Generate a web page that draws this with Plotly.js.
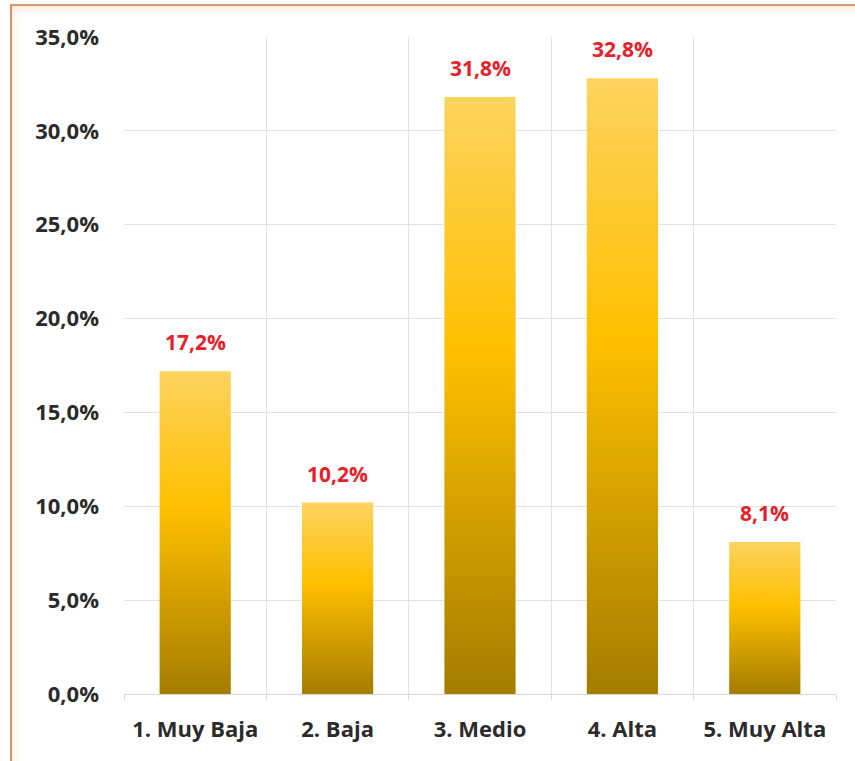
<!DOCTYPE html>
<html>
<head>
<meta charset="utf-8">
<script src="https://cdn.plot.ly/plotly-3.0.1.min.js"></script>
<style>
  html, body { margin: 0; padding: 0; background: #ffffff; }
  #wrap { position: relative; width: 855px; height: 761px; overflow: hidden; }
  #chart { position: absolute; left: 0; top: 0; width: 855px; height: 761px; }
  #frame { position: absolute; left: 10px; top: 4px; width: 860px; height: 770px;
           border-top: 2px solid #D9946A; border-left: 2px solid #D9946A;
           box-shadow: inset 3px 4px 6px rgba(250, 200, 160, 0.35); pointer-events: none; }
</style>
</head>
<body>
<div id="wrap">
  <div id="chart"></div>
  <div id="frame"></div>
</div>
<script>
const categories = ['1. Muy Baja', '2. Baja', '3. Medio', '4. Alta', '5. Muy Alta'];
const values = [17.2, 10.2, 31.8, 32.8, 8.1];
const labels = ['17,2%', '10,2%', '31,8%', '32,8%', '8,1%'];

const trace = {
  type: 'bar',
  x: categories,
  y: values,
  width: 0.5,
  marker: { color: '#FFC000', line: { width: 0 } },
  hoverinfo: 'none'
};

const annotations = categories.map((c, i) => ({
  x: c, y: values[i], xref: 'x', yref: 'y',
  text: labels[i], showarrow: false,
  yanchor: 'bottom', yshift: 13,
  font: { family: 'Open Sans', size: 21, color: '#E8202A', weight: 700 }
}));

const layout = {
  width: 855, height: 761,
  margin: { l: 124, r: 19, t: 37, b: 67 },
  paper_bgcolor: 'rgba(0,0,0,0)',
  plot_bgcolor: '#ffffff',
  separators: ',.',
  showlegend: false,
  bargap: 0.5,
  xaxis: {
    type: 'category',
    tickson: 'boundaries',
    showgrid: true, gridcolor: '#E2E2E2', gridwidth: 1,
    showline: true, linecolor: '#D9D9D9', linewidth: 1,
    ticks: 'outside', ticklen: 5, tickcolor: '#D9D9D9',
    ticklabelstandoff: 16,
    tickfont: { family: 'Open Sans', size: 22, color: '#2B2B2B', weight: 700 },
    fixedrange: true
  },
  yaxis: {
    range: [0, 35], dtick: 5, tick0: 0,
    tickformat: '.1f', ticksuffix: '%',
    showgrid: true, gridcolor: '#E2E2E2', gridwidth: 1,
    zeroline: false, showline: false,
    ticks: '', ticklabelstandoff: 24,
    tickfont: { family: 'Open Sans', size: 22, color: '#2B2B2B', weight: 700 },
    fixedrange: true
  },
  annotations: annotations
};

Plotly.newPlot('chart', [trace], layout, { displayModeBar: false, staticPlot: true }).then(gd => {
  const svg = gd.querySelector('svg.main-svg');
  let defs = svg.querySelector('defs');
  if (!defs) { defs = document.createElementNS('http://www.w3.org/2000/svg', 'defs'); svg.insertBefore(defs, svg.firstChild); }
  const ns = 'http://www.w3.org/2000/svg';
  const grad = document.createElementNS(ns, 'linearGradient');
  grad.setAttribute('id', 'barGrad');
  grad.setAttribute('x1', '0'); grad.setAttribute('y1', '0');
  grad.setAttribute('x2', '0'); grad.setAttribute('y2', '1');
  [['0', '#FCD35E'], ['0.42', '#FFC000'], ['1', '#A47D00']].forEach(([o, c]) => {
    const s = document.createElementNS(ns, 'stop');
    s.setAttribute('offset', o); s.setAttribute('stop-color', c);
    grad.appendChild(s);
  });
  defs.appendChild(grad);
  gd.querySelectorAll('.barlayer .point path').forEach(p => { p.style.fill = 'url(#barGrad)'; });
});
</script>
</body>
</html>
